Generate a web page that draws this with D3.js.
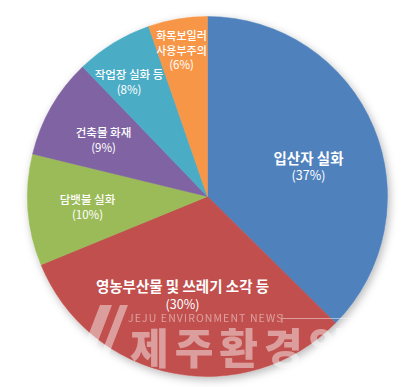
<!DOCTYPE html>
<html>
<head>
<meta charset="utf-8">
<script src="https://cdn.jsdelivr.net/npm/d3@7"></script>
<style>
html,body{margin:0;padding:0;background:#fff;}
svg{display:block;}
text{font-family:"Noto Sans CJK KR","Noto Sans",sans-serif;}
</style>
</head>
<body>
<svg id="chart" width="416" height="387"></svg>
<script>
// ---- data ----
const categories = ["입산자 실화", "영농부산물 및 쓰레기 소각 등", "담뱃불 실화", "건축물 화재", "작업장 실화 등", "화목보일러 사용부주의"];
const labelLines = [["입산자 실화"], ["영농부산물 및 쓰레기 소각 등"], ["담뱃불 실화"], ["건축물 화재"], ["작업장 실화 등"], ["화목보일러", "사용부주의"]];
const values = [37.4, 31.4, 10.0, 9.0, 6.9, 5.3];
const pctLabels = ["(37%)", "(30%)", "(10%)", "(9%)", "(8%)", "(6%)"];
const colors = ["#4F81BD", "#C0504D", "#9BBB59", "#8064A2", "#4BACC6", "#F79646"];

// ---- layout ----
const W = 416, H = 387;
const cx = 207.5, cy = 196.5, R = 180;
// label anchor (dx, dy of first baseline from centre), font size, weight
const labelLayout = [
  {dx: 101, dy: -32.5, fs: 14.5, fw: 700, pfs: 12.5, gap: 16},
  {dx: -25, dy: 95.5, fs: 14.5, fw: 700, pfs: 12.5, gap: 17},
  {dx: -120, dy: 7.5, fs: 11.5, fw: 500, pfs: 11.5, gap: 15},
  {dx: -104, dy: -59.5, fs: 11.5, fw: 500, pfs: 11.5, gap: 14.5},
  {dx: -78.5, dy: -117.5, fs: 11.5, fw: 500, pfs: 11.5, gap: 14.5},
  {dx: -26, dy: -156.5, fs: 11, fw: 500, pfs: 11.5, gap: 14.5}
];

const svg = d3.select("#chart");
const defs = svg.append("defs");
const f = defs.append("filter").attr("id", "shadow").attr("x", "-20%").attr("y", "-20%").attr("width", "140%").attr("height", "140%");
f.append("feDropShadow").attr("dx", 2).attr("dy", 3).attr("stdDeviation", 4).attr("flood-color", "#000").attr("flood-opacity", 0.28);

const color = d3.scaleOrdinal().domain(categories).range(colors);
const pie = d3.pie().sort(null).value(d => d.v);
const arc = d3.arc().innerRadius(0).outerRadius(R);
const data = categories.map((c, i) => ({c, v: values[i], i}));
const arcs = pie(data);

const g = svg.append("g").attr("transform", `translate(${cx},${cy})`);
g.append("g").attr("filter", "url(#shadow)")
  .selectAll("path").data(arcs).enter().append("path")
  .attr("d", arc)
  .attr("fill", d => color(d.data.c))
  .attr("stroke", d => color(d.data.c))
  .attr("stroke-width", 0.5);

// labels
arcs.forEach((a, i) => {
  const L = labelLayout[i];
  const t = g.append("text").attr("text-anchor", "middle").attr("fill", "#fff");
  const lines = labelLines[i];
  lines.forEach((ln, k) => {
    t.append("tspan").attr("x", L.dx).attr("y", L.dy + k * L.gap)
      .attr("font-size", L.fs).attr("font-weight", L.fw).text(ln);
  });
  t.append("tspan").attr("x", L.dx).attr("y", L.dy + lines.length * L.gap)
    .attr("font-size", L.pfs).attr("font-weight", 400).text(pctLabels[i]);
});

// watermark
const wm = svg.append("g").attr("fill", "#fff").attr("opacity", 0.45);
wm.append("path").attr("d", "M78,362 L100,305 L112,305 L90,362 Z M98,362 L120,305 L128,305 L106,362 Z");
wm.append("text").attr("x", 128).attr("y", 322).attr("font-size", 10.5).attr("letter-spacing", 1.1)
  .attr("font-family", "Lato, 'Open Sans', sans-serif").text("JEJU ENVIRONMENT NEWS");
wm.append("line").attr("x1", 282).attr("x2", 365).attr("y1", 318.5).attr("y2", 318.5).attr("stroke", "#fff").attr("stroke-width", 1);
wm.append("line").attr("x1", 282).attr("x2", 282).attr("y1", 314).attr("y2", 323).attr("stroke", "#fff").attr("stroke-width", 1);
wm.append("text").attr("x", 130).attr("y", 364).attr("font-size", 42).attr("font-weight", 900).attr("letter-spacing", 6)
  .text("제주환경일보");
</script>
</body>
</html>
